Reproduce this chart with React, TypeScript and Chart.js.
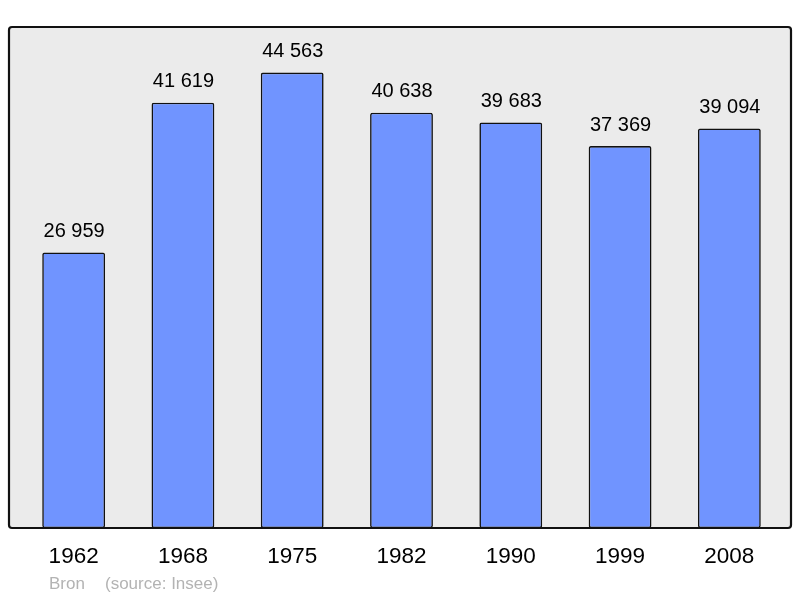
import React, { useEffect, useRef } from "react";
import { Chart, registerables } from "chart.js";

Chart.register(...registerables);

const years = ["1962", "1968", "1975", "1982", "1990", "1999", "2008"];
const population = [26959, 41619, 44563, 40638, 39683, 37369, 39094];
const valueLabels = ["26 959", "41 619", "44 563", "40 638", "39 683", "37 369", "39 094"];
const footerName = "Bron";
const footerSource = "(source: Insee)";

const FONT = "'Liberation Sans', Arial, sans-serif";

const framePlugin = {
  id: "frame",
  beforeDraw(chart: any) {
    const ctx = chart.ctx;
    ctx.save();
    ctx.beginPath();
    ctx.roundRect(9, 27, 782, 501, 3);
    ctx.fillStyle = "#ebebeb";
    ctx.fill();
    ctx.restore();
  },
  afterDatasetsDraw(chart: any) {
    const ctx = chart.ctx;
    const xs = chart.scales.x;
    const ys = chart.scales.y;
    ctx.save();
    ctx.beginPath();
    ctx.roundRect(9, 27, 782, 501, 3);
    ctx.lineWidth = 2.2;
    ctx.strokeStyle = "#111";
    ctx.stroke();

    ctx.fillStyle = "#000";
    ctx.textAlign = "center";
    ctx.textBaseline = "middle";
    ctx.font = `20px ${FONT}`;
    population.forEach((v, i) => {
      const px = xs.getPixelForValue(i);
      const py = ys.getPixelForValue(v);
      ctx.fillText(valueLabels[i], px + 0.5, py - 21);
    });
    ctx.font = `22.5px ${FONT}`;
    years.forEach((yr, i) => {
      const px = xs.getPixelForValue(i);
      ctx.fillText(yr, px, 557);
    });
    ctx.textAlign = "left";
    ctx.font = `17px ${FONT}`;
    ctx.fillStyle = "#b3b3b3";
    ctx.fillText(footerName, 49, 584);
    ctx.fillText(footerSource, 105, 584);
    ctx.restore();
  },
};

export default function App() {
  const ref = useRef<HTMLCanvasElement>(null);
  useEffect(() => {
    document.body.style.margin = "0";
    const chart = new Chart(ref.current!, {
      type: "bar",
      data: {
        labels: years,
        datasets: [
          {
            data: population,
            backgroundColor: "#7094ff",
            borderColor: "#111",
            borderWidth: 1.6,
            borderRadius: 2,
            borderSkipped: false,
            barPercentage: 0.575,
            categoryPercentage: 1,
          },
        ],
      },
      options: {
        animation: false,
        responsive: false,
        maintainAspectRatio: false,
        layout: { padding: { left: 19, right: 16, top: 27, bottom: 70 } },
        plugins: { legend: { display: false }, tooltip: { enabled: false } },
        scales: {
          x: { display: false },
          y: { display: false, min: 0, max: 49019 },
        },
      },
      plugins: [framePlugin],
    });
    return () => chart.destroy();
  }, []);
  return (
    <div style={{ width: 800, height: 598 }}>
      <canvas ref={ref} width={800} height={598} style={{ display: "block" }} />
    </div>
  );
}
